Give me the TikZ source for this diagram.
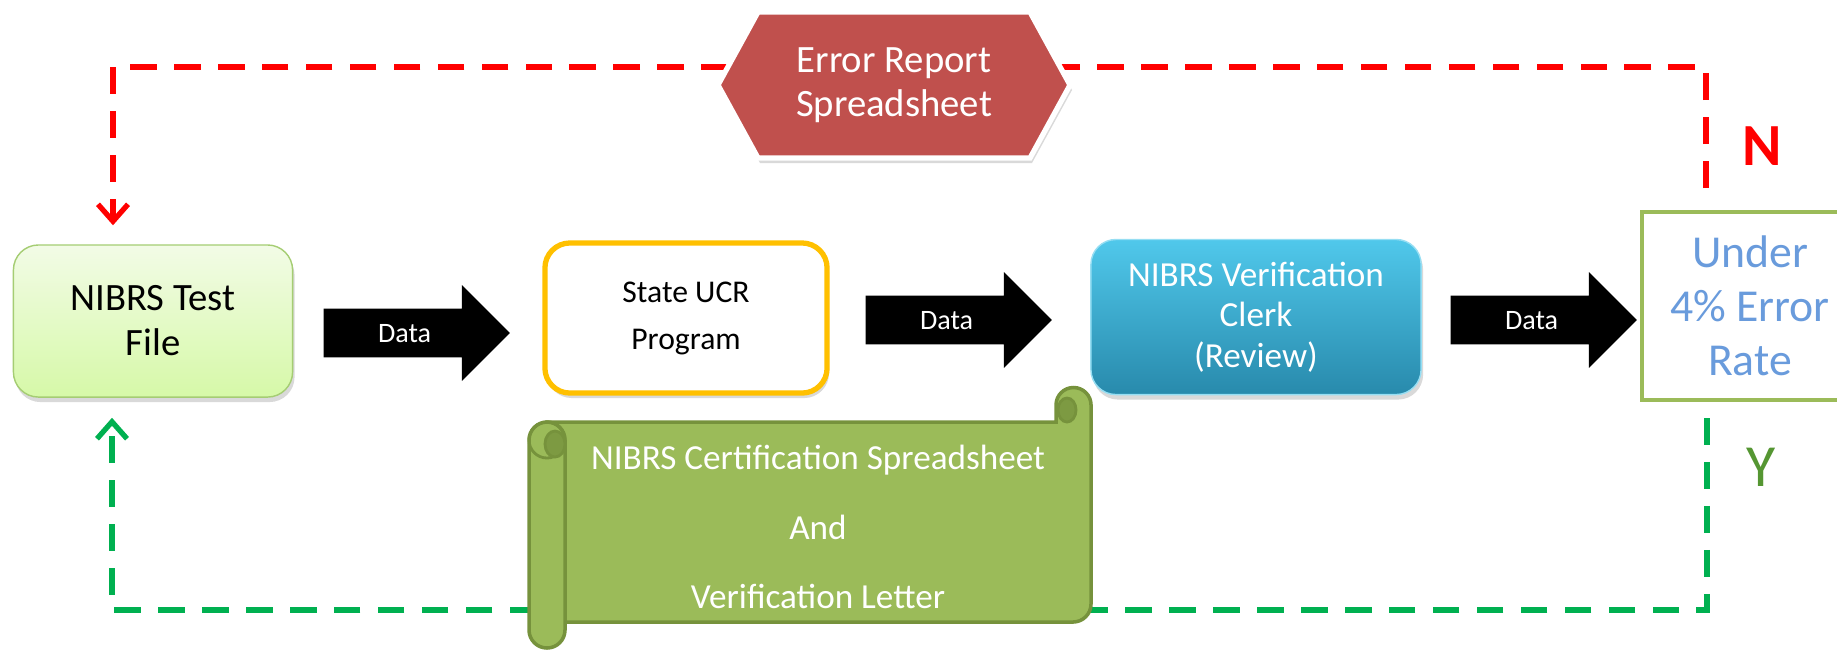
\documentclass[tikz,border=0pt]{standalone}
\usepackage{fontspec}
\setmainfont{Carlito}
\usetikzlibrary{shapes.arrows, arrows.meta, shadows}

\definecolor{testtop}{RGB}{242,251,230}
\definecolor{testbot}{RGB}{214,249,168}
\definecolor{testedge}{RGB}{165,205,115}
\definecolor{ucredge}{RGB}{255,192,0}
\definecolor{clerktop}{RGB}{80,200,235}
\definecolor{clerkbot}{RGB}{40,138,172}
\definecolor{errred}{RGB}{192,80,77}
\definecolor{oliveg}{RGB}{155,187,89}
\definecolor{olivedark}{RGB}{118,146,60}
\definecolor{ratetext}{RGB}{105,155,220}
\definecolor{loopred}{RGB}{255,0,0}
\definecolor{loopgreen}{RGB}{0,176,80}
\definecolor{yesgreen}{RGB}{85,150,50}

\tikzset{
  softshadow/.style={drop shadow={opacity=0.3, shadow xshift=0.02cm, shadow yshift=-0.05cm}},
  flowbox/.style={rounded corners=0.25cm, align=center, inner sep=2pt, softshadow},
  dataarrow/.style={single arrow, fill=black, text=white, font=\fontsize{8}{9}\selectfont,
    single arrow head extend=0.235cm, minimum height=1.86cm,
    text height=5.5pt, text depth=0pt, inner ysep=4pt, inner xsep=2pt},
  loopdash/.style={line width=1.5pt, dash pattern=on 7.6pt off 4.9pt,
    -{Straight Barb[length=0.17cm, width=0.3cm]}},
  scrollbody/.style={fill=oliveg, draw=olivedark, line width=1pt},
}

\begin{document}
\begin{tikzpicture}[x=0.01cm, y=-0.01cm]

    \useasboundingbox (0,0) rectangle (1837,650);
    \clip (0,0) rectangle (1837,650);

    % the three boxes and the check
    \node[flowbox, draw=testedge, top color=testtop, bottom color=testbot,
      minimum width=2.79cm, minimum height=1.52cm, font=\fontsize{11}{12.8}\selectfont]
      (test) at (153,321) {NIBRS Test\\File};
    \node[flowbox, draw=ucredge, line width=1.5pt, fill=white,
      minimum width=2.82cm, minimum height=1.5cm, font=\fontsize{9}{13.4}\selectfont]
      (ucr) at (686,318) {State UCR\\Program};
    \node[flowbox, draw=clerktop!60!white, top color=clerktop, bottom color=clerkbot, text=white,
      minimum width=3.3cm, minimum height=1.55cm, font=\fontsize{10}{11.5}\selectfont]
      (clerk) at (1256,317) {NIBRS Verification\\Clerk\\(Review)};
    \node[draw=oliveg, line width=1pt, fill=white, text=ratetext, align=center,
      minimum width=2.16cm, minimum height=1.88cm, font=\fontsize{13}{15.3}\selectfont]
      (under) at (1750,306) {Under\\4\% Error\\Rate};

    \node[dataarrow, anchor=tail] (d1) at (323,333) {Data};
    \node[dataarrow, anchor=tail] (d2) at (865,320) {Data};
    \node[dataarrow, anchor=tail] (d3) at (1450,320) {Data};

    % N and Y loops
    \coordinate (nstart) at (1706,188);
    \coordinate (nleft) at (113,67);
    \draw[loopdash, draw=loopred, shorten >=0.19cm] (nstart) |- (nleft) -- (test.north -| nleft);
    \node[text=loopred, font=\fontsize{17}{17}\selectfont\bfseries] (nlabel) at (1762,146) {N};

    \coordinate (ystart) at (1707,418);
    \coordinate (yleft) at (112,610);
    \draw[loopdash, draw=loopgreen, shorten >=0.2cm] (ystart) |- (yleft) -- (test.south -| yleft);
    \node[text=yesgreen, font=\fontsize{17}{17}\selectfont] (ylabel) at (1761,467) {Y};

    % error report
    \fill[errred, draw=white, line width=1.5pt, softshadow]
      (718,85) -- (758,12) -- (1030,12) -- (1070,85) -- (1030,158) -- (758,158) -- cycle;
    \node[text=white, align=center, font=\fontsize{11}{12.5}\selectfont] (err) at (894,85)
      {Error Report\\Spreadsheet};

    % certification scroll
    \filldraw[scrollbody] (547,422) -- (1056,422) -- (1056,405)
      arc[start angle=180, end angle=0, radius=0.175cm] -- (1091,604)
      arc[start angle=0, end angle=-90, radius=0.18cm] -- (547,622) -- cycle;
    \filldraw[fill=olivedark!80!oliveg, draw=olivedark, line width=0.8pt]
      (1067,410) ellipse[x radius=0.09cm, y radius=0.12cm];
    \filldraw[scrollbody, rounded corners=0.18cm] (529,422) rectangle (565,648);
    \draw[olivedark, line width=0.8pt] (547,440) circle[radius=0.18cm];
    \filldraw[fill=olivedark!80!oliveg, draw=olivedark, line width=0.8pt]
      (555,444) ellipse[x radius=0.1cm, y radius=0.13cm];
    \node[text=white, align=center, font=\fontsize{10}{19.8}\selectfont] (cert) at (818,527)
      {NIBRS Certification Spreadsheet\\And\\Verification Letter};

\end{tikzpicture}
\end{document}
